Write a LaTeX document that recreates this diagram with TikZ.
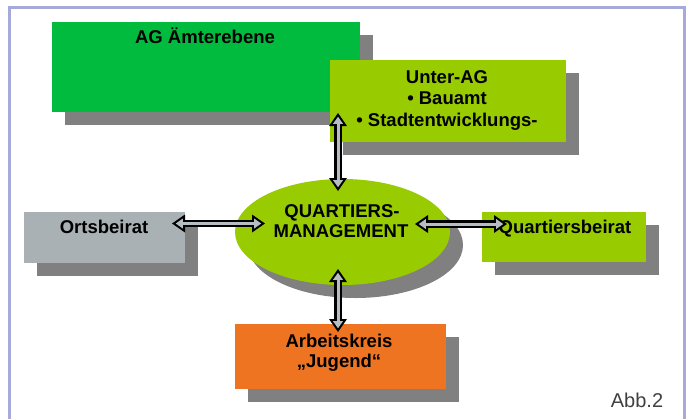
\documentclass[tikz,border=0pt]{standalone}
\usepackage{fontspec}
\setmainfont{Liberation Sans}
\usetikzlibrary{arrows.meta,shadows,shapes.geometric}
\definecolor{agGreen}{RGB}{0,187,62}
\definecolor{limeGreen}{RGB}{153,204,0}
\definecolor{boxGray}{RGB}{170,177,180}
\definecolor{akOrange}{RGB}{238,116,33}
\definecolor{shadowGray}{RGB}{128,128,128}
\definecolor{arrowFill}{RGB}{180,190,195}
\definecolor{frameCol}{RGB}{165,170,218}
\definecolor{abbGray}{RGB}{64,64,64}
\newcommand\blockarrow[2]{%
  \draw[line width=7.5pt, black,
    {Triangle[length=13pt,width=18pt,line width=0pt]}-{Triangle[length=13pt,width=18pt,line width=0pt]}] (#1) -- (#2);
  \draw[line width=3pt, arrowFill, shorten <=3.8pt, shorten >=3.8pt,
    {Triangle[length=7pt,width=10pt,line width=0pt]}-{Triangle[length=7pt,width=10pt,line width=0pt]}] (#1) -- (#2);}
\begin{document}
\begin{tikzpicture}[x=1pt,y=-1pt,
  shadowed/.style={drop shadow={shadow xshift=13pt, shadow yshift=-13pt, fill=shadowGray, opacity=1}},
  blockbox/.style={rectangle, draw=none, inner sep=0pt, shadowed},
  lbl/.style={font=\fontsize{18.5}{22}\selectfont\bfseries, inner sep=0pt, anchor=base, text=black}]
\useasboundingbox (0,0) rectangle (688,418);
\fill[white] (0,0) rectangle (688,418);
\draw[frameCol, line width=3pt] (9,425) -- (9,7) -- (684.5,7) -- (684.5,425);

% boxes
\node[blockbox, fill=agGreen, minimum width=308pt, minimum height=90pt] (ag) at (206,67) {};
\node[blockbox, fill=limeGreen, minimum width=236pt, minimum height=82pt] (unter) at (448,101) {};
\node[blockbox, fill=boxGray, minimum width=161pt, minimum height=51pt] (orts) at (104.5,237.5) {};
\node[blockbox, fill=limeGreen, minimum width=164pt, minimum height=50pt] (qb) at (564,237) {};
\node[blockbox, fill=akOrange, minimum width=211pt, minimum height=65pt] (ak) at (340.5,356.5) {};
\node[ellipse, draw=none, inner sep=0pt, fill=limeGreen, shadowed, minimum width=215pt, minimum height=106pt] (qm) at (342.5,232) {};

% texts
\node[lbl] (agT) at (205,43) {AG Ämterebene};
\node[lbl] (unterT1) at (447,83) {Unter-AG};
\node[lbl] (unterT2) at (447,104.5) {• Bauamt};
\node[lbl] (unterT3) at (447,126) {• Stadtentwicklungs-};
\node[lbl] (qmT1) at (342,217) {QUARTIERS-};
\node[lbl] (qmT2) at (341,237) {MANAGEMENT};
\node[lbl] (ortsT) at (104,233) {Ortsbeirat};
\node[lbl] (qbT) at (565,233) {Quartiersbeirat};
\node[lbl] (akT1) at (339,347) {Arbeitskreis};
\node[lbl] (akT2) at (339,367) {„Jugend“};
\node[inner sep=0pt, anchor=base, font=\fontsize{20}{24}\selectfont, text=abbGray] (abb) at (637,407) {Abb.2};

% arrow end points
\coordinate (topA) at (338,113);
\coordinate (topB) at (338,191);
\coordinate (botA) at (338,269);
\coordinate (botB) at (338,332);
\coordinate (leftA) at (172,223.5);
\coordinate (leftB) at (265,223.5);
\coordinate (rightA) at (415,224);
\coordinate (rightB) at (507,224);

\blockarrow{topA}{topB}
\blockarrow{botA}{botB}
\blockarrow{leftA}{leftB}
\blockarrow{rightA}{rightB}
\end{tikzpicture}
\end{document}
